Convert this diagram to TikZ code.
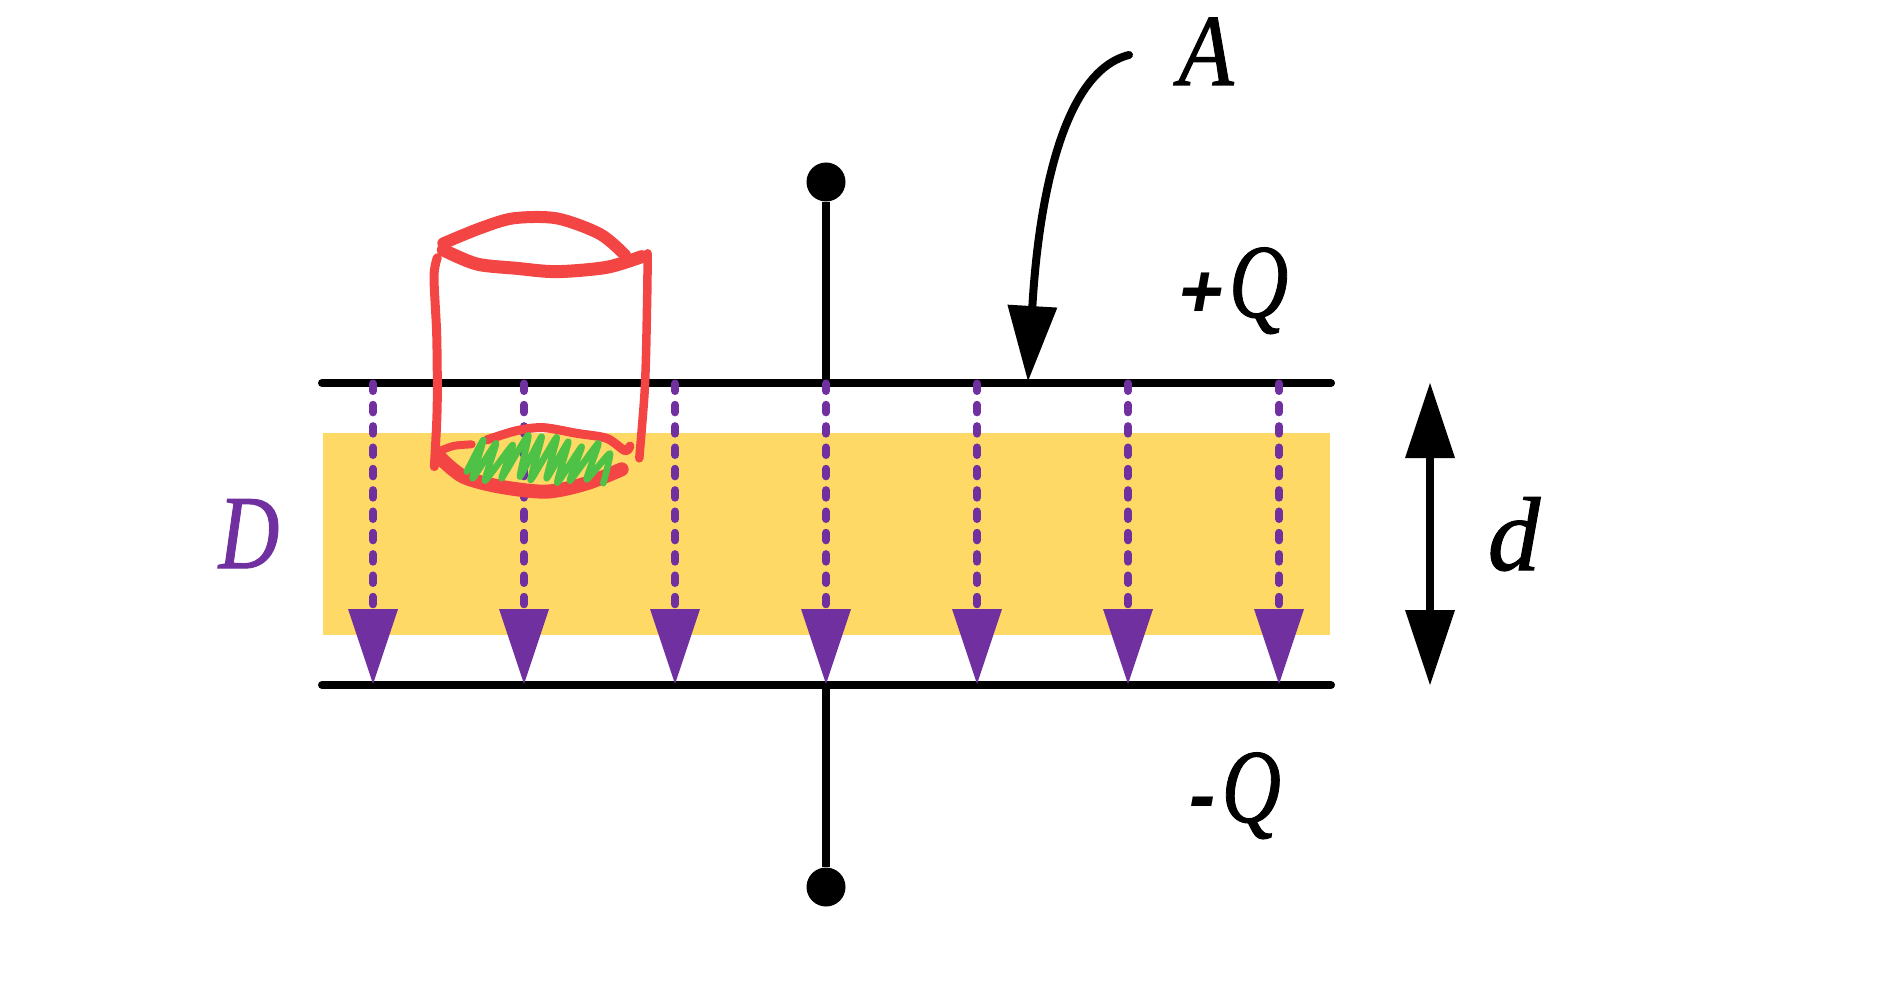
\documentclass[tikz,border=0pt]{standalone}
\usepackage{fontspec}
\usepackage{graphicx}
\usetikzlibrary{arrows.meta}
\setmainfont{Liberation Serif}
\newfontfamily\labelfont[FakeBold=1]{Liberation Serif Italic}
\newfontfamily\signfont[FakeSlant=0.18]{Liberation Sans Bold}
\definecolor{platefill}{HTML}{FFD966}
\definecolor{fluxpurple}{HTML}{7030A0}
\definecolor{boxred}{HTML}{F44545}
\definecolor{scribblegreen}{HTML}{4EC247}

\begin{document}
\begin{tikzpicture}[x=1pt,y=-1pt]
  \tikzset{
    plate/.style={line width=8pt,line cap=round},
    wire/.style={line width=8pt},
    terminal/.style={circle,fill=black,inner sep=0pt,minimum size=39pt},
    bigtip/.style={-{Triangle[width=50pt,length=75pt,line width=0pt]}},
    flux/.style={draw=fluxpurple,line width=8pt,line cap=round,dash pattern=on 7.5pt off 13.83pt,
      -{Triangle[width=50pt,length=75pt,line width=0pt,fill=fluxpurple,color=fluxpurple]}},
    biglabel/.style={font=\fontsize{105}{105}\labelfont\selectfont,inner sep=0pt,anchor=base},
    redline/.style={draw=boxred,line cap=round,line join=round},
  }
  \useasboundingbox (0,0) rectangle (1902,1000);

  % dielectric
  \fill[platefill] (323,433) rectangle (1330,635);

  % plates and leads
  \coordinate (topleft) at (322,383);
  \coordinate (topright) at (1331,383);
  \coordinate (botleft) at (322,685);
  \coordinate (botright) at (1331,685);
  \coordinate (topmid) at (826,383);
  \coordinate (botmid) at (826,685);
  \node [terminal] (topdot) at (826,182) {};
  \node [terminal] (botdot) at (826,887) {};
  \draw [plate] (topleft) -- (topright);
  \draw [plate] (botleft) -- (botright);
  \draw [wire] (topdot) -- (topmid);
  \draw [wire] (botdot) -- (botmid);

  % labels
  \node [biglabel] (labelA) at (1206,85) {\scalebox{0.86}[0.97]{A}};
  \node [biglabel] (labelQp) at (1232,317) {{\fontsize{76}{76}\signfont\selectfont +}\kern9pt\scalebox{0.78}[1]{Q}};
  \node [biglabel] (labelQm) at (1233,822) {{\fontsize{80}{80}\signfont\selectfont -}\kern10pt\scalebox{0.78}[1]{Q}};
  \node [biglabel,text=fluxpurple] (labelD) at (249,568) {\scalebox{0.8}[1]{D}};
  \node [biglabel] (labeld) at (1514,570) {d};

  % pointer to the plate
  \coordinate (pointerstart) at (1129,55);
  \coordinate (pointertip) at (1028,381);
  \draw [wire,line cap=round,bigtip] (pointerstart) .. controls (1060,72) and (1038,210) .. (pointertip);

  % separation
  \coordinate (sepleft) at (1430,383);
  \coordinate (sepright) at (1430,685);
  \draw [wire,{Triangle[width=50pt,length=75pt,line width=0pt]}-{Triangle[width=50pt,length=75pt,line width=0pt]}] (sepleft) -- (sepright);

  % field lines
  \foreach \i/\xpos in {1/373,2/524,3/675,4/826,5/977,6/1128,7/1279} {
    \coordinate (fluxtop\i) at (\xpos,383.5);
    \coordinate (fluxbot\i) at (\xpos,684);
    \draw [flux] (fluxtop\i) -- (fluxbot\i);
  }

  % hand drawn box
  \begin{scope}[shift={(400,190)},x=0.3333pt,y=-0.3333pt]
    \draw [redline,line width=12pt] plot [smooth] coordinates {(130,160) (240,115) (340,85) (470,85) (600,132) (675,195)};
    \draw [redline,line width=13pt] plot [smooth] coordinates {(130,180) (230,222) (350,235) (470,245) (620,232) (725,200)};
    \draw [redline,line width=9pt] plot [smooth] coordinates {(112,203) (102,260) (110,430) (112,600) (110,700) (103,830)};
    \draw [redline,line width=8.5pt] plot [smooth] coordinates {(743,190) (742,300) (738,500) (733,620) (718,805)};
    \draw [redline,line width=8pt] plot [smooth] coordinates {(115,785) (160,768) (215,763)};
    \draw [redline,line width=9pt] plot [smooth] coordinates {(260,750) (350,722) (430,713) (530,730) (620,745) (675,782) (690,768)};
    \draw [redline,line width=14pt] plot [smooth] coordinates {(122,805) (190,860) (300,890) (440,905) (560,880) (665,838)};
    \draw [draw=scribblegreen,line width=6.5pt,line cap=round,line join=round]
      plot [smooth,tension=0.3] coordinates {(200,845) (250,750) (218,865) (288,760) (255,872) (338,765) (305,865) (385,735) (360,860)
        (425,740) (392,870) (470,742) (440,865) (505,755) (472,878) (545,770) (510,872) (595,760) (560,868) (630,790) (610,880)};
  \end{scope}
\end{tikzpicture}
\end{document}
